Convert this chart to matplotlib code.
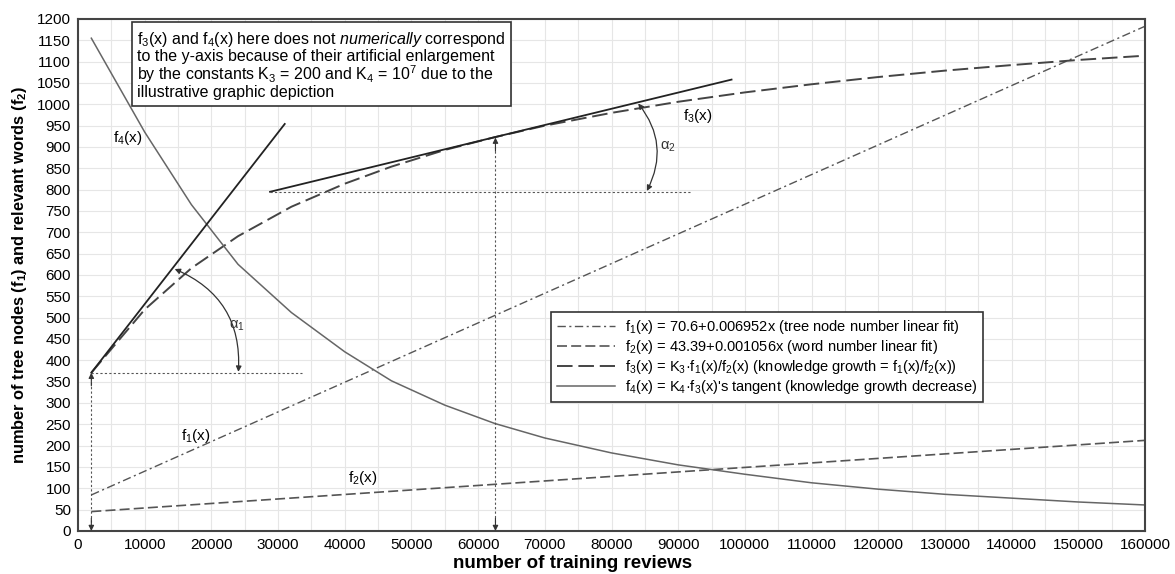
import numpy as np
import matplotlib
matplotlib.use('Agg')
import matplotlib.pyplot as plt

plt.rcParams['font.family'] = ['Liberation Sans', 'DejaVu Sans']
plt.rcParams['mathtext.fontset'] = 'custom'
plt.rcParams['mathtext.rm'] = 'Liberation Sans'
plt.rcParams['mathtext.it'] = 'Liberation Sans:italic'
plt.rcParams['mathtext.bf'] = 'Liberation Sans:bold'
plt.rcParams['mathtext.default'] = 'regular'

# values
x_lin = [2000, 160000]
f1_vals = [84.5, 1183]
f2_vals = [45.5, 212.4]

x_f3 = [2000, 10000, 17000, 24000, 32000, 40000, 47000, 55000, 62500, 70000,
        80000, 90000, 100000, 110000, 120000, 130000, 140000, 150000, 160000]
f3_vals = [371, 519, 616, 691, 760, 814, 854, 893, 923, 950,
           980, 1006, 1028, 1047, 1064, 1079, 1092, 1104, 1114]

x_f4 = [2000, 10000, 17000, 24000, 32000, 40000, 47000, 55000, 62500, 70000,
        80000, 90000, 100000, 110000, 120000, 130000, 140000, 150000, 160000]
f4_vals = [1155, 935, 765, 625, 512, 420, 352, 295, 252, 218,
           183, 155, 133, 113, 98, 86, 77, 68, 61]

# tangents of f3
tan1_x = [2000, 31000]
tan1_y = [371, 954]
tan2_x = [28800, 98000]
tan2_y = [795, 1058]

legend_labels = [
    'f$_1$(x) = 70.6+0.006952x (tree node number linear fit)',
    'f$_2$(x) = 43.39+0.001056x (word number linear fit)',
    'f$_3$(x) = K$_3$·f$_1$(x)/f$_2$(x) (knowledge growth = f$_1$(x)/f$_2$(x))',
    "f$_4$(x) = K$_4$·f$_3$(x)'s tangent (knowledge growth decrease)",
]
note = ('f$_3$(x) and f$_4$(x) here does not $\\it{numerically}$ correspond\n'
        'to the y-axis because of their artificial enlargement\n'
        'by the constants K$_3$ = 200 and K$_4$ = 10$^7$ due to the\n'
        'illustrative graphic depiction')

fig = plt.figure(figsize=(11.75, 5.74), dpi=100)
ax = fig.add_axes([78/1175, 1 - 531/574, 1067/1175, 512/574])

fs = 11
l1, = ax.plot(x_lin, f1_vals, color='#555555', lw=1.0, dashes=(6, 2.5, 1.5, 2.5))
l2, = ax.plot(x_lin, f2_vals, color='#555555', lw=1.2, dashes=(6, 2.5))
l3, = ax.plot(x_f3, f3_vals, color='#444444', lw=1.4, dashes=(8, 3))
l4, = ax.plot(x_f4, f4_vals, color='#666666', lw=1.1)
ax.plot(tan1_x, tan1_y, color='#222222', lw=1.3)
ax.plot(tan2_x, tan2_y, color='#222222', lw=1.3)

dot = dict(color='#555555', lw=0.8, dashes=(2, 2))
ax.plot([2000, 33600], [371, 371], **dot)
ax.plot([28800, 92000], [795, 795], **dot)
ax.plot([2000, 2000], [0, 371], **dot)
ax.plot([62600, 62600], [0, 922], **dot)

def head(x0, y0, x1, y1):
    ax.annotate('', xy=(x1, y1), xytext=(x0, y0),
                arrowprops=dict(arrowstyle='-|>', color='#333333', lw=0.8,
                                mutation_scale=8, shrinkA=0, shrinkB=0))

head(2000, 340, 2000, 371)
head(2000, 30, 2000, 0)
head(62600, 890, 62600, 922)
head(62600, 30, 62600, 0)

arc = dict(arrowstyle='<|-|>', color='#333333', lw=0.9, mutation_scale=8,
           shrinkA=0, shrinkB=0)
ax.annotate('', xy=(24050, 373), xytext=(14500, 614),
            arrowprops=dict(connectionstyle='arc3,rad=-0.35', **arc))
ax.annotate('', xy=(85300, 797), xytext=(84000, 1002),
            arrowprops=dict(connectionstyle='arc3,rad=-0.32', **arc))
ax.text(23800, 480, r'$\alpha_1$', fontsize=10.5, ha='center', va='center', color='#333333')
ax.text(88500, 900, r'$\alpha_2$', fontsize=10.5, ha='center', va='center', color='#333333')

ax.text(7500, 921, 'f$_4$(x)', fontsize=fs, ha='center', va='center')
ax.text(92900, 973, 'f$_3$(x)', fontsize=fs, ha='center', va='center')
ax.text(17700, 222, 'f$_1$(x)', fontsize=fs, ha='center', va='center')
ax.text(42700, 124, 'f$_2$(x)', fontsize=fs, ha='center', va='center')

ax.text(0.0555, 0.979, note, transform=ax.transAxes, fontsize=11.5, va='top', ha='left',
        linespacing=1.0,
        bbox=dict(boxstyle='square,pad=0.35', fc='white', ec='#333333', lw=1.2))

leg = ax.legend([l1, l2, l3, l4], legend_labels, loc='upper left',
                bbox_to_anchor=(0.443, 0.428), borderaxespad=0, fontsize=10.5,
                frameon=True, fancybox=False, handlelength=4, handletextpad=0.7,
                labelspacing=0.15, borderpad=0.4, framealpha=1)
leg.get_frame().set_edgecolor('#333333')
leg.get_frame().set_linewidth(1.2)

ax.set_xlim(0, 160000)
ax.set_ylim(0, 1200)
ax.set_xticks(np.arange(0, 160001, 10000))
ax.set_xticks(np.arange(5000, 160000, 10000), minor=True)
ax.set_yticks(np.arange(0, 1201, 50))
ax.grid(which='both', color='#e6e6e6', lw=0.8)
ax.set_axisbelow(True)
ax.tick_params(which='both', length=0, labelsize=fs, pad=5)
for s in ax.spines.values():
    s.set_color('#444444')
    s.set_linewidth(1.5)

fig.text(573/1175, 1 - 564/574, 'number of training reviews', fontsize=13.5,
         fontweight='bold', ha='center', va='center')
fig.text(20/1175, 1 - 275/574, 'number of tree nodes (f$_1$) and relevant words (f$_2$)',
         fontsize=11.8, fontweight='bold', rotation=90, ha='center', va='center')

fig.savefig('out.png', dpi=100)
